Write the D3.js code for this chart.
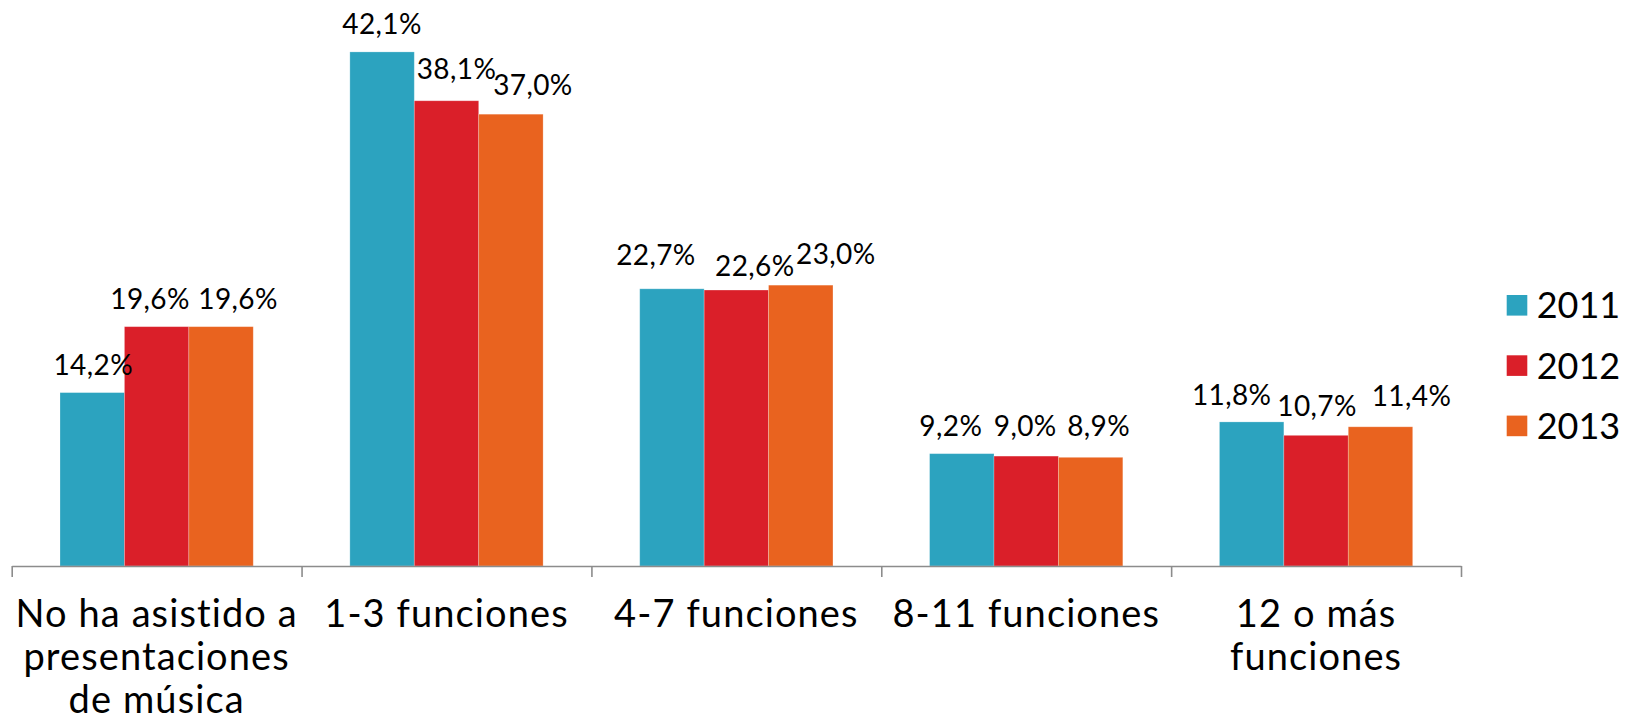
<!DOCTYPE html>
<html>
<head>
<meta charset="utf-8">
<script src="https://cdn.jsdelivr.net/npm/d3@7/dist/d3.min.js"></script>
<style>
  html, body { margin: 0; padding: 0; background: #fff; }
  svg { display: block; }
  text { font-family: Lato, "Noto Sans", sans-serif; fill: #000; font-variant-ligatures: none; font-feature-settings: "liga" 0; }
</style>
</head>
<body>
<svg id="chart" width="1633" height="721"></svg>
<script>
// ---- data ----
const categories = [
  "No ha asistido a presentaciones de música",
  "1-3 funciones",
  "4-7 funciones",
  "8-11 funciones",
  "12 o más funciones"
];
const seriesNames = ["2011", "2012", "2013"];
const values2011 = [14.2, 42.1, 22.7, 9.2, 11.8];
const values2012 = [19.6, 38.1, 22.6, 9.0, 10.7];
const values2013 = [19.6, 37.0, 23.0, 8.9, 11.4];
const seriesValues = [values2011, values2012, values2013];

// ---- layout / style ----
const colors = ["#2CA3BF", "#DA1F29", "#E9631F"];
const W = 1633, H = 721;
const plotLeft = 11.7, plotRight = 1461, axisY = 566, topY = 16.5;
// manual label nudges [dx, dy] per category, per series (as in the reference)
const labelNudge = [
  [[1, 0], [-6.6, 0], [17, 0]],
  [[0, 0], [10, -4], [22, -1]],
  [[-16, -6], [18.5, 4], [35, -3]],
  [[-11, 0], [-1, -2], [8, -3]],
  [[-20, 1], [1, -1], [31, -3]]
];

const svg = d3.select("#chart");

const x0 = d3.scaleBand()
  .domain(categories)
  .range([plotLeft, plotRight])
  .paddingInner(1 / 3)
  .paddingOuter(1 / 6);
const x1 = d3.scaleBand()
  .domain(seriesNames)
  .range([0, x0.bandwidth()]);
const y = d3.scaleLinear().domain([0, 45]).range([axisY, topY]);

const rows = categories.map((c, i) => ({
  cat: c, i,
  vals: seriesNames.map((s, j) => ({ s, j, v: seriesValues[j][i] }))
}));

// bars
const groups = svg.append("g").selectAll("g")
  .data(rows).join("g")
  .attr("transform", d => `translate(${x0(d.cat)},0)`);

groups.selectAll("rect")
  .data(d => d.vals)
  .join("rect")
  .attr("x", d => x1(d.s))
  .attr("y", d => y(d.v))
  .attr("width", x1.bandwidth())
  .attr("height", d => y(0) - y(d.v))
  .attr("fill", d => colors[d.j])
  .attr("stroke", "#ffffff")
  .attr("stroke-opacity", 0.3)
  .attr("stroke-width", 0.8);

// data labels
groups.each(function (row) {
  d3.select(this).selectAll("text.lbl")
    .data(row.vals)
    .join("text")
    .attr("class", "lbl")
    .attr("x", d => x1(d.s) + x1.bandwidth() / 2 + labelNudge[row.i][d.j][0])
    .attr("y", d => y(d.v) - 18 + labelNudge[row.i][d.j][1])
    .attr("text-anchor", "middle")
    .style("font-size", "28px")
    .style("letter-spacing", "0.4px")
    .text(d => d.v.toFixed(1).replace(".", ",") + "%");
});

// axis line + boundary ticks
const step = x0.step();
const xb = d3.scaleLinear().domain([0, categories.length]).range([plotLeft, plotLeft + step * categories.length]);
const axisG = svg.append("g")
  .attr("transform", `translate(0,${axisY})`)
  .call(d3.axisBottom(xb).ticks(categories.length).tickSize(11).tickSizeOuter(0).tickFormat(""));
axisG.select(".domain").attr("stroke", "#8C8C8C").attr("stroke-width", 1.6);
axisG.selectAll(".tick line").attr("stroke", "#8C8C8C").attr("stroke-width", 1.6);

// category labels
const labG = svg.append("g")
  .attr("transform", `translate(0,${axisY})`)
  .call(d3.axisBottom(x0).tickSize(0).tickPadding(0));
labG.select(".domain").remove();
labG.selectAll(".tick text")
  .style("font-size", "38px")
  .style("letter-spacing", "1.1px")
  .attr("fill", "#000")
  .attr("dy", null)
  .attr("y", 61)
  .each(function (d) {
    const t = d3.select(this);
    const words = d.split(" ");
    t.text(null);
    const maxW = step + 4;
    let line = [];
    let lineNo = 0;
    let tspan = t.append("tspan").attr("x", 0).attr("y", 61);
    for (const w of words) {
      line.push(w);
      tspan.text(line.join(" "));
      if (tspan.node().getComputedTextLength() > maxW && line.length > 1) {
        line.pop();
        tspan.text(line.join(" "));
        line = [w];
        lineNo++;
        tspan = t.append("tspan").attr("x", 0).attr("y", 61 + lineNo * 43).text(w);
      }
    }
  });

// legend
const legend = svg.append("g").attr("transform", "translate(1506.7,295)");
const li = legend.selectAll("g").data(seriesNames).join("g")
  .attr("transform", (d, i) => `translate(0,${i * 60.3})`);
li.append("rect").attr("width", 20.6).attr("height", 20.6).attr("fill", (d, i) => colors[i]);
li.append("text").attr("x", 30).attr("y", 23.3).style("font-size", "36px").text(d => d);
</script>
</body>
</html>
